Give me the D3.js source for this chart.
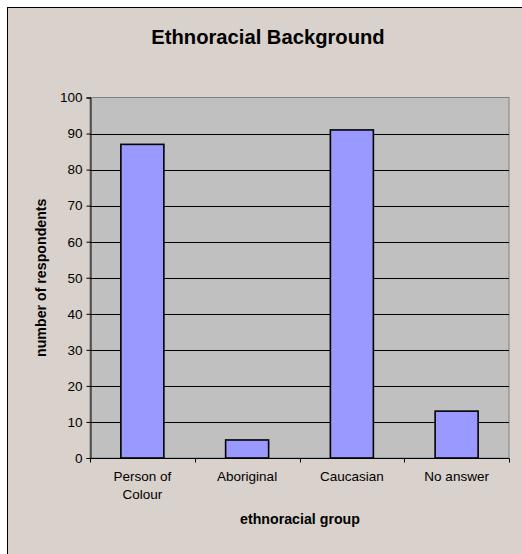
<!DOCTYPE html>
<html>
<head>
<meta charset="utf-8">
<script src="https://cdn.jsdelivr.net/npm/d3@7"></script>
<style>
  html, body { margin: 0; padding: 0; background: #fff; }
  svg { display: block; }
  text { font-family: "Liberation Sans", Arial, sans-serif; fill: #000; }
</style>
</head>
<body>
<script>
// Survey answers: ethnoracial background of respondents
const categories = [["Person of", "Colour"], ["Aboriginal"], ["Caucasian"], ["No answer"]];
const respondents = [87, 5, 91, 13];
const yTicks = [0, 10, 20, 30, 40, 50, 60, 70, 80, 90, 100];

const W = 522, H = 554;
const plot = { left: 90, top: 97.5, right: 509, bottom: 458 };

const svg = d3.select("body").append("svg")
  .attr("width", W).attr("height", H);

// chart area background with frame (left/top edges only visible)
svg.append("rect").attr("x", 0).attr("y", 0).attr("width", W).attr("height", H).attr("fill", "#fff");
svg.append("rect").attr("x", 7.5).attr("y", 7.5).attr("width", W + 10).attr("height", H + 10)
  .attr("fill", "#d9d1cb").attr("stroke", "#000").attr("stroke-width", 1);

const x = d3.scaleBand().domain(d3.range(categories.length))
  .range([plot.left, plot.right]).paddingInner(0).paddingOuter(0);
const y = d3.scaleLinear().domain([0, 100]).range([plot.bottom, plot.top]);

// plot area
svg.append("rect")
  .attr("x", plot.left).attr("y", plot.top)
  .attr("width", plot.right - plot.left).attr("height", plot.bottom - plot.top)
  .attr("fill", "#c0c0c0").attr("stroke", "#808080").attr("stroke-width", 1);

// gridlines
svg.append("g").selectAll("line").data(yTicks.filter(t => t > 0 && t < 100)).join("line")
  .attr("x1", plot.left).attr("x2", plot.right)
  .attr("y1", d => Math.round(y(d)) + 0.5).attr("y2", d => Math.round(y(d)) + 0.5)
  .attr("stroke", "#000").attr("stroke-width", 1);

// bars
const barW = 43;
svg.append("g").selectAll("rect").data(respondents).join("rect")
  .attr("x", (d, i) => x(i) + x.bandwidth() / 2 - barW / 2)
  .attr("y", d => y(d))
  .attr("width", barW)
  .attr("height", d => y(0) - y(d))
  .attr("fill", "#9999ff").attr("stroke", "#000").attr("stroke-width", 1.6);

// y axis
const yAxis = svg.append("g").attr("transform", `translate(${plot.left + 0.5},0)`)
  .call(d3.axisLeft(y).tickValues(yTicks).tickSize(4).tickPadding(4).tickFormat(d3.format("d")));
yAxis.select(".domain").attr("stroke", "#000");
yAxis.selectAll(".tick line").attr("stroke", "#000");
yAxis.selectAll("text").style("font-size", "13.5px").attr("fill", "#000")
  .attr("font-family", "Liberation Sans, Arial, sans-serif");

// x axis (ticks at category boundaries)
const xAxisG = svg.append("g").attr("transform", `translate(0,${plot.bottom + 0.5})`);
xAxisG.append("line").attr("x1", plot.left).attr("x2", plot.right + 0.5)
  .attr("stroke", "#000");
const bounds = d3.range(categories.length + 1).map(i => plot.left + i * x.step());
xAxisG.selectAll("line.tk").data(bounds).join("line").attr("class", "tk")
  .attr("x1", d => Math.round(d) + 0.5).attr("x2", d => Math.round(d) + 0.5)
  .attr("y1", 0).attr("y2", 4).attr("stroke", "#000");

const labels = svg.append("g");
categories.forEach((lines, i) => {
  const t = labels.append("text")
    .attr("x", x(i) + x.bandwidth() / 2)
    .attr("y", 481)
    .attr("text-anchor", "middle")
    .style("font-size", "13.5px");
  lines.forEach((ln, j) => {
    t.append("tspan").attr("x", x(i) + x.bandwidth() / 2).attr("dy", j === 0 ? 0 : 18.3).text(ln);
  });
});

// titles
svg.append("text").attr("x", 268).attr("y", 44)
  .attr("text-anchor", "middle").style("font-size", "20.2px").style("font-weight", "bold")
  .text("Ethnoracial Background");

svg.append("text").attr("x", 300).attr("y", 524)
  .attr("text-anchor", "middle").style("font-size", "14.2px").style("font-weight", "bold")
  .text("ethnoracial group");

svg.append("text")
  .attr("transform", `translate(46,${(plot.top + plot.bottom) / 2}) rotate(-90)`)
  .attr("text-anchor", "middle").style("font-size", "14.2px").style("font-weight", "bold")
  .text("number of respondents");
</script>
</body>
</html>
